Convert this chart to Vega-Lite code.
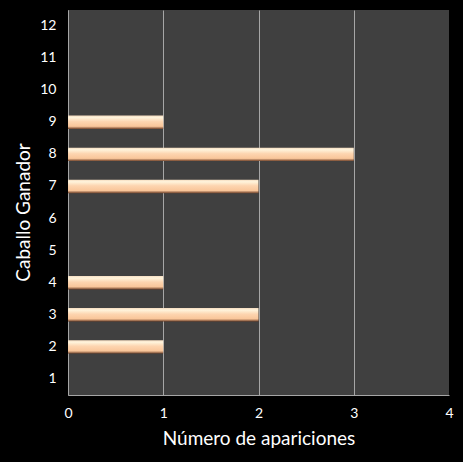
{
  "$schema": "https://vega.github.io/schema/vega-lite/v6.json",
  "autosize": "none",
  "padding": {"left": 68, "top": 10, "right": 14, "bottom": 67},
  "width": 381,
  "height": 385,
  "background": "black",
  "data": {
    "values": [
      {"caballo": "1", "apariciones": 0},
      {"caballo": "2", "apariciones": 1},
      {"caballo": "3", "apariciones": 2},
      {"caballo": "4", "apariciones": 1},
      {"caballo": "5", "apariciones": 0},
      {"caballo": "6", "apariciones": 0},
      {"caballo": "7", "apariciones": 2},
      {"caballo": "8", "apariciones": 3},
      {"caballo": "9", "apariciones": 1},
      {"caballo": "10", "apariciones": 0},
      {"caballo": "11", "apariciones": 0},
      {"caballo": "12", "apariciones": 0}
    ]
  },
  "mark": {
    "type": "bar",
    "fill": {
      "gradient": "linear",
      "x1": 0, "y1": 0, "x2": 0, "y2": 1,
      "stops": [
        {"offset": 0, "color": "#f5dcc0"},
        {"offset": 0.15, "color": "#fff4dc"},
        {"offset": 0.45, "color": "#fdd5b0"},
        {"offset": 0.8, "color": "#f9c69a"},
        {"offset": 1, "color": "#6e4028"}
      ]
    },
    "strokeWidth": 0
  },
  "encoding": {
    "y": {
      "field": "caballo",
      "type": "ordinal",
      "scale": {
        "domain": ["12", "11", "10", "9", "8", "7", "6", "5", "4", "3", "2", "1"],
        "paddingInner": 0.58,
        "paddingOuter": 0.29
      },
      "axis": {
        "title": "Caballo Ganador",
        "titleColor": "white",
        "titleFont": "Lato",
        "titleFontSize": 19,
        "titleFontWeight": "normal",
        "titlePadding": 6,
        "titleY": 202,
        "labelColor": "white",
        "labelFont": "Lato",
        "labelFontSize": 14,
        "labelPadding": 12,
        "ticks": false,
        "domainColor": "#a6a6a6",
        "labelAngle": 0
      }
    },
    "x": {
      "field": "apariciones",
      "type": "quantitative",
      "scale": {"domain": [0, 4], "nice": false},
      "axis": {
        "title": "Número de apariciones",
        "values": [0, 1, 2, 3, 4],
        "format": "d",
        "titleColor": "white",
        "titleFont": "Lato",
        "titleFontSize": 19,
        "titleFontWeight": "normal",
        "titlePadding": 9,
        "labelColor": "white",
        "labelFont": "Lato",
        "labelFontSize": 14,
        "labelPadding": 11,
        "labelFlush": false,
        "ticks": false,
        "domainColor": "#a6a6a6",
        "grid": true,
        "gridColor": {
          "condition": {"test": "datum.value == 4", "value": "transparent"},
          "value": "#a6a6a6"
        },
        "gridWidth": 1
      }
    }
  },
  "config": {
    "view": {"fill": "#404040", "stroke": null}
  }
}
